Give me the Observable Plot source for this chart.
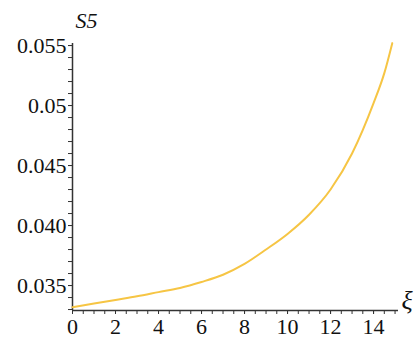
<!DOCTYPE html>
<html>
<head>
<meta charset="utf-8">
<script src="https://cdn.jsdelivr.net/npm/d3@7"></script>
<script src="https://cdn.jsdelivr.net/npm/@observablehq/plot@0.6"></script>
<style>
  html, body { margin: 0; padding: 0; background: #fff; }
  svg { display: block; }
  svg, svg text, svg g { font-family: "Liberation Serif", "DejaVu Serif", Tinos, "Times New Roman", serif !important; }
</style>
</head>
<body>
<div id="chart"></div>
<script>
// Curve S5(ξ)
const xi = [0, 1, 2, 3, 4, 5, 6, 7, 8, 9, 10, 11, 12, 13, 14, 14.5, 14.87];
const s5 = [0.0332, 0.0335, 0.0338, 0.0341, 0.03445, 0.0348, 0.0353, 0.0359, 0.0368, 0.0380, 0.0393, 0.0409, 0.0430, 0.0460, 0.0502, 0.0527, 0.0552];

const xMajorTicks = [0, 2, 4, 6, 8, 10, 12, 14];
const xMinorTicks = d3.range(0, 15.01, 0.5);
const yMajorTicks = [0.035, 0.040, 0.045, 0.050, 0.055];
const yTickLabels = ["0.035", "0.040", "0.045", "0.05", "0.055"];
const yMinorTicks = d3.range(33, 55.5, 1).map(v => v / 1000);

const xDomain = [0, 15.16];
const yDomain = [0.03292, 0.05517];
const xLabel = "ξ";
const yLabel = "S5";

const data = xi.map((x, i) => ({x, y: s5[i]}));

const axisColor = "#333";
const serif = '"Liberation Serif", "DejaVu Serif", Tinos, "Times New Roman", serif';

const chart = Plot.plot({
  width: 417,
  height: 341,
  marginLeft: 72,
  marginRight: 19,
  marginTop: 43,
  marginBottom: 31,
  style: { fontFamily: serif, fontSize: "22px", background: "#fff", color: "#111" },
  x: { domain: xDomain, label: null },
  y: { domain: yDomain, label: null },
  marks: [
    Plot.axisX({ ticks: xMinorTicks, tickSize: 4, tickFormat: () => "", stroke: axisColor, label: null }),
    Plot.axisX({ ticks: xMajorTicks, tickSize: 4, tickPadding: 4, fontSize: 22, fontFamily: serif, fill: "#111", stroke: axisColor, label: null }),
    Plot.axisY({ ticks: yMinorTicks, tickSize: 4, tickFormat: () => "", stroke: axisColor, label: null }),
    Plot.axisY({ ticks: yMajorTicks, tickSize: 4, tickPadding: 2, tickFormat: (d, i) => yTickLabels[i], fontSize: 22, fontFamily: serif, fill: "#111", stroke: axisColor, label: null }),
    Plot.ruleY([yDomain[0]], { stroke: axisColor, strokeWidth: 1.5 }),
    Plot.ruleX([xDomain[0]], { stroke: axisColor, strokeWidth: 1.5 }),
    Plot.line(data, { x: "x", y: "y", stroke: "#f6c544", strokeWidth: 2, curve: "monotone-x" }),
    Plot.text([yLabel], { frameAnchor: "top-left", dx: 3, dy: -31, textAnchor: "start", lineAnchor: "top", fontStyle: "italic", fontFamily: serif, fontSize: 22, fill: "#111" }),
    Plot.text([xLabel], { frameAnchor: "bottom-right", dx: 3, dy: -10, textAnchor: "start", lineAnchor: "middle", fontStyle: "italic", fontFamily: serif, fontSize: 26, fill: "#111" })
  ]
});

document.getElementById("chart").appendChild(chart);
</script>
</body>
</html>
